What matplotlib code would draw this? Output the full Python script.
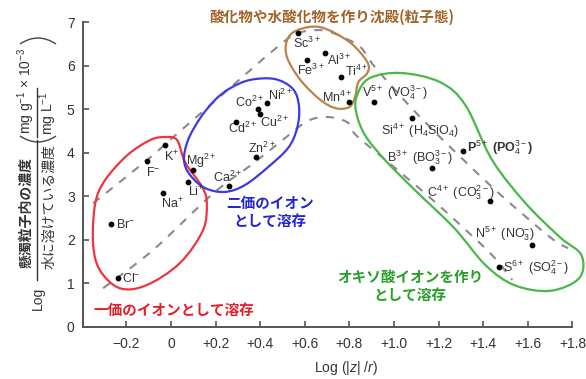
import numpy as np
import matplotlib.pyplot as plt
from matplotlib.path import Path
from matplotlib.patches import PathPatch
from matplotlib.lines import Line2D

plt.rcParams['font.family'] = ['Liberation Sans', 'Noto Sans CJK JP', 'DejaVu Sans']
plt.rcParams['mathtext.fontset'] = 'custom'
plt.rcParams['mathtext.rm'] = 'Liberation Sans'
plt.rcParams['mathtext.it'] = 'Liberation Sans:italic'
plt.rcParams['mathtext.bf'] = 'Liberation Sans:bold'

JP = ['Noto Sans CJK JP', 'DejaVu Sans']
W, H = 586, 379

# --- ions: log(|z|/r) vs log partition coefficient ---
ions = ['Cl', 'Br', 'Na', 'Li', 'F', 'K', 'Mg', 'Ca', 'Zn', 'Cd', 'Co', 'Cu', 'Ni',
        'Sc', 'Al', 'Fe', 'Ti', 'Mn', 'V', 'Si', 'P', 'B', 'C', 'N', 'S']
log_zr = [-0.24, -0.27, -0.035, 0.077, -0.11, -0.027, 0.10, 0.26, 0.38, 0.29, 0.39, 0.40, 0.43,
          0.57, 0.69, 0.61, 0.76, 0.80, 0.91, 1.08, 1.31, 1.17, 1.43, 1.62, 1.47]
log_kd = [1.12, 2.36, 3.07, 3.32, 3.80, 4.17, 3.60, 3.23, 3.90, 4.70, 5.00, 4.90, 5.13,
          6.74, 6.30, 6.12, 5.73, 5.16, 5.16, 4.80, 4.04, 3.65, 2.90, 1.88, 1.37]
ion_labels = ['Cl$^{-}$', 'Br$^{-}$', 'Na$^{+}$', 'Li$^{+}$', 'F$^{-}$', 'K$^{+}$',
              'Mg$^{2+}$', 'Ca$^{2+}$', 'Zn$^{2+}$', 'Cd$^{2+}$', 'Co$^{2+}$', 'Cu$^{2+}$', 'Ni$^{2+}$',
              'Sc$^{3+}$', 'Al$^{3+}$', 'Fe$^{3+}$', 'Ti$^{4+}$', 'Mn$^{4+}$',
              'V$^{5+}$ (VO$_4^{3-}$)', 'Si$^{4+}$ (H$_4$SiO$_4$)', 'P$^{5+}$ (PO$_4^{3-}$)',
              'B$^{3+}$ (BO$_3^{3-}$)', 'C$^{4+}$ (CO$_3^{2-}$)', 'N$^{5+}$ (NO$_3^{-}$)',
              'S$^{6+}$ (SO$_4^{2-}$)']
# label offsets in pixels (text left edge / centre relative to the dot)
label_dx = [4, 5, -2, 0, -1, -1, -7, -16, -8, -8, -23, 0, 1,
            -5, 2, -10, 4, -27, -12, -31, 4, -45, -63, -57, 4]
label_dy = [0, 0, -11, -9, -11, -11, 9, 9, 9, -6, 7, -9, 8,
            -10, -8, -10, 6, 5, 10, -13, 3, 10, 8, 11, 0]

# --- trend band (dashed guides) ---
upper_x = [-0.35, -0.108, 0.01, 0.175, 0.354, 0.475, 0.565, 0.68, 0.77, 0.85, 0.92, 1.13, 1.44, 1.70, 1.78]
upper_y = [2.84, 3.83, 4.36, 5.09, 5.89, 6.42, 6.74, 6.81, 6.65, 6.42, 5.93, 4.75, 3.21, 2.06, 1.81]
lower_x = [-0.305, -0.08, 0.19, 0.37, 0.50, 0.61, 0.70, 0.79, 0.83, 1.0, 1.19, 1.43, 1.53]
lower_y = [0.89, 1.77, 3.07, 3.76, 4.29, 4.72, 4.82, 4.70, 4.40, 3.67, 2.84, 1.70, 1.08]

# --- group outlines ---
red_x = [-0.34, -0.35, -0.32, -0.23, -0.11, 0.04, 0.143, 0.16, 0.14, 0.063, 0.027, -0.027, -0.094, -0.197, -0.296]
red_y = [2.84, 1.93, 1.31, 0.89, 0.96, 1.47, 2.22, 2.84, 3.21, 3.78, 4.29, 4.36, 4.29, 3.94, 3.37]
blue_x = [0.058, 0.076, 0.13, 0.197, 0.265, 0.354, 0.466, 0.547, 0.574, 0.565, 0.525, 0.435, 0.332, 0.242, 0.152, 0.085]
blue_y = [3.83, 4.29, 4.79, 5.21, 5.48, 5.67, 5.69, 5.46, 5.05, 4.56, 4.11, 3.67, 3.26, 3.10, 3.19, 3.49]
brown_x = [0.565, 0.67, 0.80, 0.88, 0.88, 0.84, 0.825, 0.80, 0.74, 0.67, 0.58, 0.52, 0.52]
brown_y = [6.81, 6.88, 6.54, 6.08, 5.83, 5.62, 5.28, 5.05, 5.02, 5.21, 5.67, 6.19, 6.58]
green_x = [0.834, 0.89, 1.03, 1.206, 1.32, 1.44, 1.59, 1.744, 1.84, 1.83, 1.70, 1.54, 1.41, 1.27, 1.094, 0.96, 0.87, 0.83]
green_y = [5.32, 5.71, 5.83, 5.62, 5.09, 3.83, 2.84, 2.06, 1.65, 1.12, 0.83, 0.96, 1.42, 2.27, 3.14, 3.83, 4.40, 4.93]

xticks = [-0.2, 0, 0.2, 0.4, 0.6, 0.8, 1.0, 1.2, 1.4, 1.6, 1.8]
xtick_labels = ['\u22120.2', '0', '+0.2', '+0.4', '+0.6', '+0.8', '+1.0', '+1.2', '+1.4', '+1.6', '+1.8']
yticks = [0, 1, 2, 3, 4, 5, 6, 7]


def smooth_path(xs, ys, closed):
    """Catmull-Rom curve through the given points as a cubic Bezier path."""
    pts = np.column_stack([xs, ys])
    if closed:
        P = np.vstack([pts[-1], pts, pts[0], pts[1]])
    else:
        P = np.vstack([pts[0], pts, pts[-1]])
    verts = [P[1]]
    codes = [Path.MOVETO]
    for i in range(1, len(P) - 2):
        p0, p1, p2, p3 = P[i - 1], P[i], P[i + 1], P[i + 2]
        verts += [p1 + (p2 - p0) / 6, p2 - (p3 - p1) / 6, p2]
        codes += [Path.CURVE4] * 3
    return Path(verts, codes)


def ftext(x, y, s, **kw):
    return fig.text(x / W, 1 - y / H, s, **kw)


def fbracket(x0, x1, y_end, y_mid):
    # shallow arc in figure pixels, used as a sideways parenthesis
    verts = [(x0 / W, 1 - y_end / H), ((x0 + x1) / 2 / W, 1 - (2 * y_mid - y_end) / H),
             (x1 / W, 1 - y_end / H)]
    p = Path(verts, [Path.MOVETO, Path.CURVE3, Path.CURVE3])
    fig.add_artist(PathPatch(p, fill=False, edgecolor='#444444', linewidth=1.0,
                             transform=fig.transFigure))


fig = plt.figure(figsize=(W / 100, H / 100), dpi=100)
ax = fig.add_axes([83 / W, 52 / H, 500.6 / W, 305 / H])
ax.set_xlim(-0.395, 1.85)
ax.set_ylim(0, 7)

for s in ['top', 'right']:
    ax.spines[s].set_visible(False)
for s in ['left', 'bottom']:
    ax.spines[s].set_color('#555555')
    ax.spines[s].set_linewidth(1.4)
ax.spines['bottom'].set_bounds(-0.395, 1.8)

ax.set_xticks(xticks)
ax.set_xticklabels(xtick_labels)
ax.set_yticks(yticks)
ax.tick_params(direction='in', length=4, width=1.2, color='#555555',
               labelsize=10, labelcolor='#333333')
ax.tick_params(axis='x', pad=7)
ax.tick_params(axis='y', pad=6)

# dashed band
for bx, by in [(upper_x, upper_y), (lower_x, lower_y)]:
    ax.add_patch(PathPatch(smooth_path(bx, by, False), fill=False, edgecolor='#8a8a8a',
                           linewidth=1.5, linestyle=(0, (4, 4)), clip_on=False))

# group outlines
for gx, gy, col in [(red_x, red_y, '#f0343e'), (blue_x, blue_y, '#3b3be6'),
                    (brown_x, brown_y, '#b9844c'), (green_x, green_y, '#48b848')]:
    ax.add_patch(PathPatch(smooth_path(gx, gy, True), fill=False, edgecolor=col,
                           linewidth=1.6, clip_on=False))

ax.scatter(log_zr, log_kd, s=10, color='black', zorder=5, clip_on=False)
for xv, yv, lab, dx, dy in zip(log_zr, log_kd, ion_labels, label_dx, label_dy):
    weight = 'bold' if lab.startswith('P$') else 'normal'
    ax.annotate(lab, (xv, yv), xytext=(dx, dy), textcoords='offset pixels',
                ha='left', va='center', fontsize=9, color='#333333', fontweight=weight)

# group captions
ftext(332, 17, '酸化物や水酸化物を作り沈殿(粒子態)', ha='center', va='center',
      fontsize=10.5, fontweight='bold', color='#a0642a', family=JP)
ftext(174, 310, '一価のイオンとして溶存', ha='center', va='center',
      fontsize=10.5, fontweight='bold', color='#e41f2a', family=JP)
ftext(270, 212, '二価のイオン\nとして溶存', ha='center', va='center', linespacing=1.15,
      fontsize=10.5, fontweight='bold', color='#2424d0', family=JP)
ftext(410, 286, 'オキソ酸イオンを作り\nとして溶存', ha='center', va='center', linespacing=1.15,
      fontsize=10.5, fontweight='bold', color='#27a02a', family=JP)

# axis titles
ftext(346, 368, r'Log (|$z$| /$r$)', ha='center', va='center', fontsize=10, color='#333333')

ftext(38, 298, 'Log', rotation=90, ha='center', va='center', fontsize=10, color='#333333')
ftext(26, 212, '懸濁粒子内の濃度', rotation=90, ha='center', va='center',
      fontsize=10, fontweight='bold', color='#333333', family=JP)
ftext(49, 207, '水に溶けている濃度', rotation=90, ha='center', va='center',
      fontsize=10, color='#333333', family=JP)
fig.add_artist(Line2D([37 / W, 37 / W], [1 - 280 / H, 1 - 140 / H], color='#333333', linewidth=1.0))

ftext(26, 91, r'mg g$^{-1}$ × 10$^{-3}$', rotation=90, ha='center', va='center',
      fontsize=10, color='#333333')
ftext(48, 113, r'mg L$^{-1}$', rotation=90, ha='center', va='center', fontsize=10, color='#333333')
fig.add_artist(Line2D([37 / W, 37 / W], [1 - 137 / H, 1 - 88 / H], color='#333333', linewidth=1.0))
fbracket(20, 56, 136, 142)
fbracket(20, 56, 44, 38)

fig.savefig('out.png', dpi=100)
